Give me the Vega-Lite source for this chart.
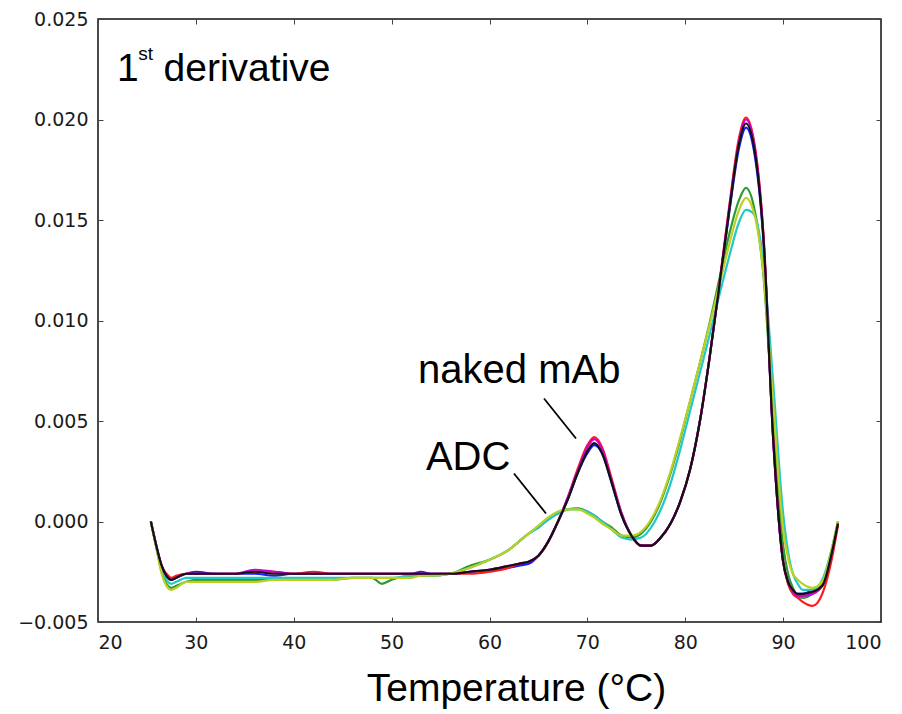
{
  "$schema": "https://vega.github.io/schema/vega-lite/v6.json",
  "width": 783,
  "height": 603,
  "autosize": {"type": "none"},
  "padding": {"left": 98, "top": 19, "right": 21, "bottom": 92},
  "background": "white",
  "config": {
    "view": {"stroke": "#111", "strokeWidth": 1.5},
    "axis": {
      "domain": false,
      "grid": false,
      "ticks": true,
      "tickSize": -5,
      "tickColor": "#444",
      "tickWidth": 1,
      "labelFont": "DejaVu Sans",
      "labelFontSize": 19,
      "labelColor": "#1a1a1a"
    }
  },
  "datasets": {
    "curves": [
      {"s":"b","t":25.4,"v":0.0},{"s":"b","t":26,"v":-0.0013},{"s":"b","t":26.5,"v":-0.0022},{"s":"b","t":27,"v":-0.0027},{"s":"b","t":27.5,"v":-0.0029},{"s":"b","t":28,"v":-0.0028},{"s":"b","t":29,"v":-0.0026},{"s":"b","t":30,"v":-0.0025},{"s":"b","t":32,"v":-0.0026},{"s":"b","t":34,"v":-0.0026},{"s":"b","t":36,"v":-0.0026},{"s":"b","t":38,"v":-0.0027},{"s":"b","t":40,"v":-0.0026},{"s":"b","t":42,"v":-0.0026},{"s":"b","t":44,"v":-0.0026},{"s":"b","t":46,"v":-0.0026},{"s":"b","t":48,"v":-0.0026},{"s":"b","t":49,"v":-0.0026},{"s":"b","t":50,"v":-0.0026},{"s":"b","t":52,"v":-0.0026},{"s":"b","t":53,"v":-0.0025},{"s":"b","t":54,"v":-0.0026},{"s":"b","t":56,"v":-0.0026},{"s":"b","t":58,"v":-0.0025},{"s":"b","t":60,"v":-0.0024},{"s":"b","t":62,"v":-0.0023},{"s":"b","t":63,"v":-0.0022},{"s":"b","t":64,"v":-0.0021},{"s":"b","t":65,"v":-0.0017},{"s":"b","t":66,"v":-0.0010},{"s":"b","t":67,"v":0.0000},{"s":"b","t":68,"v":0.0011},{"s":"b","t":69,"v":0.0024},{"s":"b","t":70,"v":0.0034},{"s":"b","t":70.7,"v":0.0038},{"s":"b","t":71.5,"v":0.0034},{"s":"b","t":72.5,"v":0.0019},{"s":"b","t":73.5,"v":0.0003},{"s":"b","t":74.5,"v":-0.0007},{"s":"b","t":75.5,"v":-0.0012},{"s":"b","t":76.5,"v":-0.0012},{"s":"b","t":77.5,"v":-0.0008},{"s":"b","t":78.5,"v":-0.0001},{"s":"b","t":79.5,"v":0.0010},{"s":"b","t":80.5,"v":0.0026},{"s":"b","t":81.5,"v":0.0050},{"s":"b","t":82.5,"v":0.0082},{"s":"b","t":83.5,"v":0.0118},{"s":"b","t":84.5,"v":0.0154},{"s":"b","t":85.5,"v":0.0186},{"s":"b","t":86.2,"v":0.0196},{"s":"b","t":87,"v":0.0185},{"s":"b","t":88,"v":0.0139},{"s":"b","t":89,"v":0.0040},{"s":"b","t":90,"v":-0.0020},{"s":"b","t":90.5,"v":-0.0030},{"s":"b","t":91,"v":-0.0035},{"s":"b","t":91.5,"v":-0.0036},{"s":"b","t":92,"v":-0.0036},{"s":"b","t":93,"v":-0.0034},{"s":"b","t":94,"v":-0.0031},{"s":"b","t":95,"v":-0.0015},{"s":"b","t":95.6,"v":-0.0001},

      {"s":"g","t":25.4,"v":0.0},{"s":"g","t":26,"v":-0.0014},{"s":"g","t":26.5,"v":-0.0025},{"s":"g","t":27,"v":-0.0031},{"s":"g","t":27.5,"v":-0.0033},{"s":"g","t":28,"v":-0.0032},{"s":"g","t":29,"v":-0.0030},{"s":"g","t":30,"v":-0.0029},{"s":"g","t":32,"v":-0.0029},{"s":"g","t":34,"v":-0.0029},{"s":"g","t":36,"v":-0.0029},{"s":"g","t":38,"v":-0.0029},{"s":"g","t":40,"v":-0.0029},{"s":"g","t":42,"v":-0.0029},{"s":"g","t":44,"v":-0.0029},{"s":"g","t":46,"v":-0.0028},{"s":"g","t":48,"v":-0.0028},{"s":"g","t":49,"v":-0.0031},{"s":"g","t":50,"v":-0.0029},{"s":"g","t":52,"v":-0.0027},{"s":"g","t":53,"v":-0.0027},{"s":"g","t":54,"v":-0.0027},{"s":"g","t":56,"v":-0.0026},{"s":"g","t":58,"v":-0.0022},{"s":"g","t":60,"v":-0.0019},{"s":"g","t":62,"v":-0.0014},{"s":"g","t":63,"v":-0.0010},{"s":"g","t":64,"v":-0.0006},{"s":"g","t":65,"v":-0.0003},{"s":"g","t":66,"v":0.0001},{"s":"g","t":67,"v":0.0004},{"s":"g","t":68,"v":0.0006},{"s":"g","t":69,"v":0.00065},{"s":"g","t":70,"v":0.0005},{"s":"g","t":70.7,"v":0.0003},{"s":"g","t":71.5,"v":0.0000},{"s":"g","t":72.5,"v":-0.0003},{"s":"g","t":73.5,"v":-0.0007},{"s":"g","t":74.5,"v":-0.0008},{"s":"g","t":75.5,"v":-0.0006},{"s":"g","t":76.5,"v":0.0000},{"s":"g","t":77.5,"v":0.0010},{"s":"g","t":78.5,"v":0.0024},{"s":"g","t":79.5,"v":0.0041},{"s":"g","t":80.5,"v":0.0060},{"s":"g","t":81.5,"v":0.0079},{"s":"g","t":82.5,"v":0.0099},{"s":"g","t":83.5,"v":0.0121},{"s":"g","t":84.5,"v":0.0143},{"s":"g","t":85.5,"v":0.0160},{"s":"g","t":86.2,"v":0.0166},{"s":"g","t":87,"v":0.0157},{"s":"g","t":88,"v":0.0122},{"s":"g","t":89,"v":0.0050},{"s":"g","t":90,"v":-0.0012},{"s":"g","t":90.5,"v":-0.0026},{"s":"g","t":91,"v":-0.0033},{"s":"g","t":91.5,"v":-0.0037},{"s":"g","t":92,"v":-0.0038},{"s":"g","t":93,"v":-0.0036},{"s":"g","t":94,"v":-0.0031},{"s":"g","t":95,"v":-0.0014},{"s":"g","t":95.6,"v":0.0},

      {"s":"r","t":25.4,"v":0.0},{"s":"r","t":26,"v":-0.0013},{"s":"r","t":26.5,"v":-0.0022},{"s":"r","t":27,"v":-0.0026},{"s":"r","t":27.5,"v":-0.0028},{"s":"r","t":28,"v":-0.0027},{"s":"r","t":29,"v":-0.0026},{"s":"r","t":30,"v":-0.0026},{"s":"r","t":32,"v":-0.0026},{"s":"r","t":34,"v":-0.0026},{"s":"r","t":36,"v":-0.0025},{"s":"r","t":38,"v":-0.0025},{"s":"r","t":40,"v":-0.0026},{"s":"r","t":42,"v":-0.0025},{"s":"r","t":44,"v":-0.0026},{"s":"r","t":46,"v":-0.0026},{"s":"r","t":48,"v":-0.0026},{"s":"r","t":49,"v":-0.0026},{"s":"r","t":50,"v":-0.0026},{"s":"r","t":52,"v":-0.0026},{"s":"r","t":53,"v":-0.0026},{"s":"r","t":54,"v":-0.0026},{"s":"r","t":56,"v":-0.0026},{"s":"r","t":58,"v":-0.0026},{"s":"r","t":60,"v":-0.0025},{"s":"r","t":62,"v":-0.0023},{"s":"r","t":63,"v":-0.0021},{"s":"r","t":64,"v":-0.0020},{"s":"r","t":65,"v":-0.0017},{"s":"r","t":66,"v":-0.0010},{"s":"r","t":67,"v":0.0000},{"s":"r","t":68,"v":0.0012},{"s":"r","t":69,"v":0.0026},{"s":"r","t":70,"v":0.0038},{"s":"r","t":70.7,"v":0.0042},{"s":"r","t":71.5,"v":0.0037},{"s":"r","t":72.5,"v":0.0021},{"s":"r","t":73.5,"v":0.0004},{"s":"r","t":74.5,"v":-0.0007},{"s":"r","t":75.5,"v":-0.0012},{"s":"r","t":76.5,"v":-0.0012},{"s":"r","t":77.5,"v":-0.0008},{"s":"r","t":78.5,"v":-0.0001},{"s":"r","t":79.5,"v":0.0010},{"s":"r","t":80.5,"v":0.0026},{"s":"r","t":81.5,"v":0.0050},{"s":"r","t":82.5,"v":0.0082},{"s":"r","t":83.5,"v":0.0119},{"s":"r","t":84.5,"v":0.0157},{"s":"r","t":85.5,"v":0.0191},{"s":"r","t":86.2,"v":0.0201},{"s":"r","t":87,"v":0.0190},{"s":"r","t":88,"v":0.0142},{"s":"r","t":89,"v":0.0041},{"s":"r","t":90,"v":-0.0020},{"s":"r","t":90.5,"v":-0.0031},{"s":"r","t":91,"v":-0.0036},{"s":"r","t":91.5,"v":-0.0038},{"s":"r","t":92,"v":-0.0040},{"s":"r","t":93,"v":-0.0042},{"s":"r","t":94,"v":-0.0036},{"s":"r","t":95,"v":-0.0018},{"s":"r","t":95.6,"v":-0.0002},

      {"s":"c","t":25.4,"v":0.0},{"s":"c","t":26,"v":-0.0013},{"s":"c","t":26.5,"v":-0.0023},{"s":"c","t":27,"v":-0.0029},{"s":"c","t":27.5,"v":-0.0031},{"s":"c","t":28,"v":-0.0030},{"s":"c","t":29,"v":-0.0028},{"s":"c","t":30,"v":-0.0028},{"s":"c","t":32,"v":-0.0028},{"s":"c","t":34,"v":-0.0028},{"s":"c","t":36,"v":-0.0028},{"s":"c","t":38,"v":-0.0028},{"s":"c","t":40,"v":-0.0028},{"s":"c","t":42,"v":-0.0028},{"s":"c","t":44,"v":-0.0028},{"s":"c","t":46,"v":-0.0028},{"s":"c","t":48,"v":-0.0028},{"s":"c","t":49,"v":-0.0028},{"s":"c","t":50,"v":-0.0028},{"s":"c","t":52,"v":-0.0027},{"s":"c","t":53,"v":-0.0027},{"s":"c","t":54,"v":-0.0027},{"s":"c","t":56,"v":-0.0026},{"s":"c","t":58,"v":-0.0023},{"s":"c","t":60,"v":-0.0019},{"s":"c","t":62,"v":-0.0014},{"s":"c","t":63,"v":-0.0010},{"s":"c","t":64,"v":-0.0006},{"s":"c","t":65,"v":-0.0003},{"s":"c","t":66,"v":0.0001},{"s":"c","t":67,"v":0.0004},{"s":"c","t":68,"v":0.0006},{"s":"c","t":69,"v":0.0006},{"s":"c","t":70,"v":0.0005},{"s":"c","t":70.7,"v":0.0003},{"s":"c","t":71.5,"v":0.0000},{"s":"c","t":72.5,"v":-0.0004},{"s":"c","t":73.5,"v":-0.0008},{"s":"c","t":74.5,"v":-0.0009},{"s":"c","t":75.5,"v":-0.0008},{"s":"c","t":76.5,"v":-0.0003},{"s":"c","t":77.5,"v":0.0006},{"s":"c","t":78.5,"v":0.0019},{"s":"c","t":79.5,"v":0.0036},{"s":"c","t":80.5,"v":0.0055},{"s":"c","t":81.5,"v":0.0074},{"s":"c","t":82.5,"v":0.0093},{"s":"c","t":83.5,"v":0.0113},{"s":"c","t":84.5,"v":0.0132},{"s":"c","t":85.5,"v":0.0149},{"s":"c","t":86.2,"v":0.0155},{"s":"c","t":87,"v":0.0153},{"s":"c","t":88,"v":0.0128},{"s":"c","t":89,"v":0.0068},{"s":"c","t":90,"v":0.0004},{"s":"c","t":90.5,"v":-0.0015},{"s":"c","t":91,"v":-0.0026},{"s":"c","t":91.5,"v":-0.0031},{"s":"c","t":92,"v":-0.0034},{"s":"c","t":93,"v":-0.0034},{"s":"c","t":94,"v":-0.0029},{"s":"c","t":95,"v":-0.0013},{"s":"c","t":95.6,"v":0.0},

      {"s":"m","t":25.4,"v":0.0},{"s":"m","t":26,"v":-0.0013},{"s":"m","t":26.5,"v":-0.0022},{"s":"m","t":27,"v":-0.0027},{"s":"m","t":27.5,"v":-0.0029},{"s":"m","t":28,"v":-0.0028},{"s":"m","t":29,"v":-0.0026},{"s":"m","t":30,"v":-0.0026},{"s":"m","t":32,"v":-0.0026},{"s":"m","t":34,"v":-0.0026},{"s":"m","t":36,"v":-0.0024},{"s":"m","t":38,"v":-0.0025},{"s":"m","t":40,"v":-0.0026},{"s":"m","t":42,"v":-0.0026},{"s":"m","t":44,"v":-0.0026},{"s":"m","t":46,"v":-0.0026},{"s":"m","t":48,"v":-0.0026},{"s":"m","t":49,"v":-0.0026},{"s":"m","t":50,"v":-0.0026},{"s":"m","t":52,"v":-0.0026},{"s":"m","t":53,"v":-0.0026},{"s":"m","t":54,"v":-0.0026},{"s":"m","t":56,"v":-0.0026},{"s":"m","t":58,"v":-0.0025},{"s":"m","t":60,"v":-0.0024},{"s":"m","t":62,"v":-0.0022},{"s":"m","t":63,"v":-0.0021},{"s":"m","t":64,"v":-0.0020},{"s":"m","t":65,"v":-0.0017},{"s":"m","t":66,"v":-0.0010},{"s":"m","t":67,"v":0.0000},{"s":"m","t":68,"v":0.0012},{"s":"m","t":69,"v":0.0025},{"s":"m","t":70,"v":0.0037},{"s":"m","t":70.7,"v":0.0041},{"s":"m","t":71.5,"v":0.0036},{"s":"m","t":72.5,"v":0.0020},{"s":"m","t":73.5,"v":0.0004},{"s":"m","t":74.5,"v":-0.0007},{"s":"m","t":75.5,"v":-0.0012},{"s":"m","t":76.5,"v":-0.0012},{"s":"m","t":77.5,"v":-0.0008},{"s":"m","t":78.5,"v":-0.0001},{"s":"m","t":79.5,"v":0.0010},{"s":"m","t":80.5,"v":0.0026},{"s":"m","t":81.5,"v":0.0050},{"s":"m","t":82.5,"v":0.0082},{"s":"m","t":83.5,"v":0.0118},{"s":"m","t":84.5,"v":0.0156},{"s":"m","t":85.5,"v":0.0189},{"s":"m","t":86.2,"v":0.0200},{"s":"m","t":87,"v":0.0189},{"s":"m","t":88,"v":0.0141},{"s":"m","t":89,"v":0.0040},{"s":"m","t":90,"v":-0.0020},{"s":"m","t":90.5,"v":-0.0030},{"s":"m","t":91,"v":-0.0035},{"s":"m","t":91.5,"v":-0.0037},{"s":"m","t":92,"v":-0.0037},{"s":"m","t":93,"v":-0.0036},{"s":"m","t":94,"v":-0.0032},{"s":"m","t":95,"v":-0.0015},{"s":"m","t":95.6,"v":-0.0001},

      {"s":"y","t":25.4,"v":0.0},{"s":"y","t":26,"v":-0.0014},{"s":"y","t":26.5,"v":-0.0026},{"s":"y","t":27,"v":-0.0032},{"s":"y","t":27.5,"v":-0.0034},{"s":"y","t":28,"v":-0.0033},{"s":"y","t":29,"v":-0.0030},{"s":"y","t":30,"v":-0.0030},{"s":"y","t":32,"v":-0.0030},{"s":"y","t":34,"v":-0.0030},{"s":"y","t":36,"v":-0.0030},{"s":"y","t":38,"v":-0.0029},{"s":"y","t":40,"v":-0.0029},{"s":"y","t":42,"v":-0.0029},{"s":"y","t":44,"v":-0.0029},{"s":"y","t":46,"v":-0.0028},{"s":"y","t":48,"v":-0.0028},{"s":"y","t":49,"v":-0.0028},{"s":"y","t":50,"v":-0.0028},{"s":"y","t":52,"v":-0.0028},{"s":"y","t":53,"v":-0.0027},{"s":"y","t":54,"v":-0.0027},{"s":"y","t":56,"v":-0.0026},{"s":"y","t":58,"v":-0.0023},{"s":"y","t":60,"v":-0.0019},{"s":"y","t":62,"v":-0.0014},{"s":"y","t":63,"v":-0.0010},{"s":"y","t":64,"v":-0.0006},{"s":"y","t":65,"v":-0.0002},{"s":"y","t":66,"v":0.0002},{"s":"y","t":67,"v":0.0005},{"s":"y","t":68,"v":0.0006},{"s":"y","t":69,"v":0.0006},{"s":"y","t":70,"v":0.0004},{"s":"y","t":70.7,"v":0.0002},{"s":"y","t":71.5,"v":-0.0001},{"s":"y","t":72.5,"v":-0.0004},{"s":"y","t":73.5,"v":-0.0007},{"s":"y","t":74.5,"v":-0.0007},{"s":"y","t":75.5,"v":-0.0005},{"s":"y","t":76.5,"v":0.0001},{"s":"y","t":77.5,"v":0.0011},{"s":"y","t":78.5,"v":0.0025},{"s":"y","t":79.5,"v":0.0042},{"s":"y","t":80.5,"v":0.0060},{"s":"y","t":81.5,"v":0.0079},{"s":"y","t":82.5,"v":0.0098},{"s":"y","t":83.5,"v":0.0118},{"s":"y","t":84.5,"v":0.0138},{"s":"y","t":85.5,"v":0.0155},{"s":"y","t":86.2,"v":0.0161},{"s":"y","t":87,"v":0.0154},{"s":"y","t":88,"v":0.0123},{"s":"y","t":89,"v":0.0058},{"s":"y","t":90,"v":-0.0004},{"s":"y","t":90.5,"v":-0.0018},{"s":"y","t":91,"v":-0.0026},{"s":"y","t":91.5,"v":-0.0029},{"s":"y","t":92,"v":-0.0031},{"s":"y","t":93,"v":-0.0033},{"s":"y","t":94,"v":-0.0030},{"s":"y","t":95,"v":-0.0013},{"s":"y","t":95.6,"v":0.0},

      {"s":"k","t":25.4,"v":0.0},{"s":"k","t":26,"v":-0.0013},{"s":"k","t":26.5,"v":-0.0022},{"s":"k","t":27,"v":-0.0027},{"s":"k","t":27.5,"v":-0.0029},{"s":"k","t":28,"v":-0.0028},{"s":"k","t":29,"v":-0.0026},{"s":"k","t":30,"v":-0.0026},{"s":"k","t":32,"v":-0.0026},{"s":"k","t":34,"v":-0.0026},{"s":"k","t":36,"v":-0.0025},{"s":"k","t":38,"v":-0.0026},{"s":"k","t":40,"v":-0.0026},{"s":"k","t":42,"v":-0.0026},{"s":"k","t":44,"v":-0.0026},{"s":"k","t":46,"v":-0.0026},{"s":"k","t":48,"v":-0.0026},{"s":"k","t":49,"v":-0.0026},{"s":"k","t":50,"v":-0.0026},{"s":"k","t":52,"v":-0.0026},{"s":"k","t":53,"v":-0.0026},{"s":"k","t":54,"v":-0.0026},{"s":"k","t":56,"v":-0.0026},{"s":"k","t":58,"v":-0.0025},{"s":"k","t":60,"v":-0.0024},{"s":"k","t":62,"v":-0.0022},{"s":"k","t":63,"v":-0.0021},{"s":"k","t":64,"v":-0.0020},{"s":"k","t":65,"v":-0.0017},{"s":"k","t":66,"v":-0.0010},{"s":"k","t":67,"v":0.0000},{"s":"k","t":68,"v":0.0011},{"s":"k","t":69,"v":0.0024},{"s":"k","t":70,"v":0.0035},{"s":"k","t":70.7,"v":0.0039},{"s":"k","t":71.5,"v":0.0034},{"s":"k","t":72.5,"v":0.0019},{"s":"k","t":73.5,"v":0.0003},{"s":"k","t":74.5,"v":-0.0007},{"s":"k","t":75.5,"v":-0.0012},{"s":"k","t":76.5,"v":-0.0012},{"s":"k","t":77.5,"v":-0.0008},{"s":"k","t":78.5,"v":-0.0001},{"s":"k","t":79.5,"v":0.0010},{"s":"k","t":80.5,"v":0.0026},{"s":"k","t":81.5,"v":0.0050},{"s":"k","t":82.5,"v":0.0082},{"s":"k","t":83.5,"v":0.0118},{"s":"k","t":84.5,"v":0.0155},{"s":"k","t":85.5,"v":0.0188},{"s":"k","t":86.2,"v":0.0198},{"s":"k","t":87,"v":0.0187},{"s":"k","t":88,"v":0.0140},{"s":"k","t":89,"v":0.0040},{"s":"k","t":90,"v":-0.0020},{"s":"k","t":90.5,"v":-0.0030},{"s":"k","t":91,"v":-0.0034},{"s":"k","t":91.5,"v":-0.0036},{"s":"k","t":92,"v":-0.0036},{"s":"k","t":93,"v":-0.0035},{"s":"k","t":94,"v":-0.0032},{"s":"k","t":95,"v":-0.0015},{"s":"k","t":95.6,"v":-0.0001}
    ],
    "pointers": [
      {"x": 65.57, "y": 0.00612, "x2": 68.84, "y2": 0.00413},
      {"x": 62.50, "y": 0.00239, "x2": 65.77, "y2": 0.0004}
    ],
    "labels": [
      {"label": "naked mAb", "x": 52.7, "y": 0.00687},
      {"label": "ADC", "x": 53.5, "y": 0.00254}
    ]
  },
  "resolve": {"axis": {"x": "independent", "y": "independent"}},
  "layer": [
    {
      "data": {"name": "curves"},
      "mark": {"type": "line", "interpolate": "monotone", "strokeWidth": 2.2},
      "encoding": {
        "x": {
          "field": "t", "type": "quantitative",
          "scale": {"domain": [20, 100], "nice": false, "zero": false},
          "axis": {
            "orient": "bottom",
            "values": [20, 30, 40, 50, 60, 70, 80, 90, 100],
            "format": "d",
            "labelPadding": 16,
            "title": "Temperature (°C)",
            "titleFont": "Liberation Sans",
            "titleFontSize": 39,
            "titleFontWeight": "normal",
            "titleColor": "#000",
            "titleBaseline": "alphabetic",
            "titleY": 78,
            "titleX": 418,
            "titleAlign": "center"
          }
        },
        "y": {
          "field": "v", "type": "quantitative",
          "scale": {"domain": [-0.005, 0.025], "nice": false, "zero": false},
          "axis": {
            "orient": "left",
            "values": [-0.005, 0, 0.005, 0.01, 0.015, 0.02, 0.025],
            "format": ".3f",
            "labelPadding": 15,
            "title": null
          }
        },
        "color": {
          "field": "s", "type": "nominal",
          "scale": {
            "domain": ["b", "g", "r", "c", "m", "y", "k"],
            "range": ["#1a1aff", "#2f9a2f", "#ff1a1a", "#22c8c8", "#d000d0", "#bccf22", "#111111"]
          },
          "legend": null
        }
      }
    },
    {
      "data": {"name": "pointers"},
      "mark": {"type": "rule", "color": "#000", "strokeWidth": 1.8},
      "encoding": {
        "x": {"field": "x", "type": "quantitative",
          "axis": {"orient": "top", "values": [20, 30, 40, 50, 60, 70, 80, 90, 100], "labels": false, "title": null}},
        "y": {"field": "y", "type": "quantitative",
          "axis": {"orient": "right", "values": [-0.005, 0, 0.005, 0.01, 0.015, 0.02, 0.025], "labels": false, "title": null}},
        "x2": {"field": "x2"},
        "y2": {"field": "y2"}
      }
    },
    {
      "data": {"name": "labels"},
      "mark": {"type": "text", "font": "Liberation Sans", "fontSize": 40, "align": "left", "baseline": "alphabetic", "color": "#000"},
      "encoding": {
        "x": {"field": "x", "type": "quantitative", "axis": null},
        "y": {"field": "y", "type": "quantitative", "axis": null},
        "text": {"field": "label"}
      }
    },
    {
      "data": {"values": [{"label": "1", "x": 21.95, "y": 0.02194}]},
      "mark": {"type": "text", "font": "Liberation Sans", "fontSize": 39, "align": "left", "baseline": "alphabetic", "color": "#000"},
      "encoding": {
        "x": {"field": "x", "type": "quantitative", "axis": null},
        "y": {"field": "y", "type": "quantitative", "axis": null},
        "text": {"field": "label"}
      }
    },
    {
      "data": {"values": [{"label": "st", "x": 24.1, "y": 0.02294}]},
      "mark": {"type": "text", "font": "Liberation Sans", "fontSize": 19, "align": "left", "baseline": "alphabetic", "color": "#000"},
      "encoding": {
        "x": {"field": "x", "type": "quantitative", "axis": null},
        "y": {"field": "y", "type": "quantitative", "axis": null},
        "text": {"field": "label"}
      }
    },
    {
      "data": {"values": [{"label": "derivative", "x": 26.7, "y": 0.02194}]},
      "mark": {"type": "text", "font": "Liberation Sans", "fontSize": 39, "align": "left", "baseline": "alphabetic", "color": "#000"},
      "encoding": {
        "x": {"field": "x", "type": "quantitative", "axis": null},
        "y": {"field": "y", "type": "quantitative", "axis": null},
        "text": {"field": "label"}
      }
    }
  ]
}
